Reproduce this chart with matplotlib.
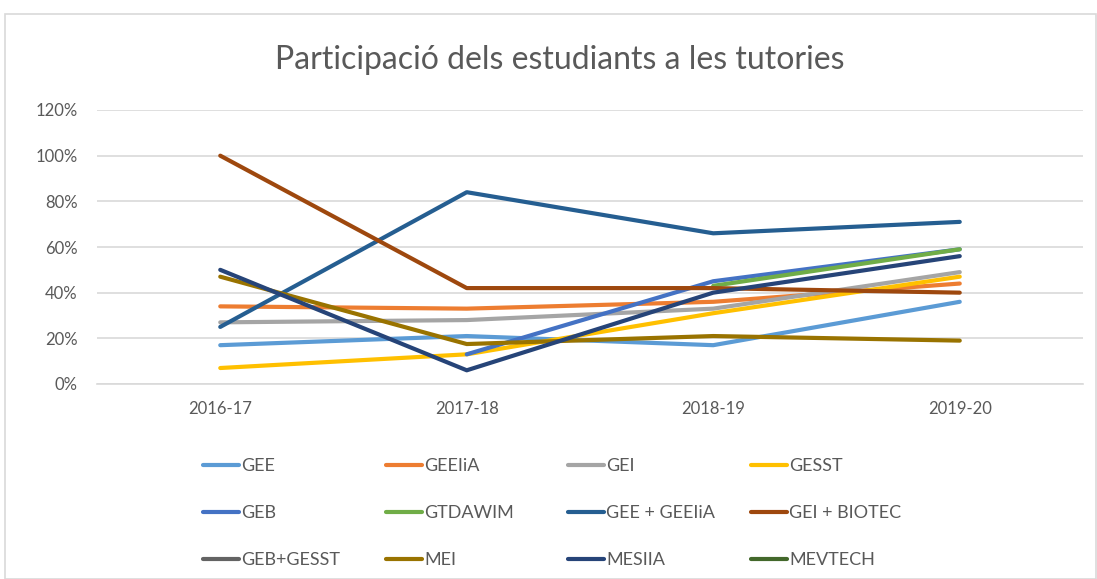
import numpy as np
import matplotlib.pyplot as plt
from matplotlib.patches import Rectangle
from matplotlib.ticker import PercentFormatter

plt.rcParams['font.family'] = ['Lato', 'DejaVu Sans']

# Data (fraction of students)
years = ['2016-17', '2017-18', '2018-19', '2019-20']
nan = np.nan
gee = [0.17, 0.21, 0.17, 0.36]
geeiia = [0.34, 0.33, 0.36, 0.44]
gei = [0.27, 0.28, 0.33, 0.49]
gesst = [0.07, 0.13, 0.31, 0.47]
geb = [nan, 0.13, 0.45, 0.59]
gtdawim = [nan, nan, 0.43, 0.59]
gee_geeiia = [0.25, 0.84, 0.66, 0.71]
gei_biotec = [1.00, 0.42, 0.42, 0.40]
geb_gesst = [nan, nan, nan, nan]
mei = [0.47, 0.175, 0.21, 0.19]
mesiia = [0.50, 0.06, 0.40, 0.56]
mevtech = [nan, nan, nan, nan]

series = [
    ('GEE', gee, '#5B9BD5'),
    ('GEEIiA', geeiia, '#ED7D31'),
    ('GEI', gei, '#A5A5A5'),
    ('GESST', gesst, '#FFC000'),
    ('GEB', geb, '#4472C4'),
    ('GTDAWIM', gtdawim, '#70AD47'),
    ('GEE + GEEIiA', gee_geeiia, '#255E91'),
    ('GEI + BIOTEC', gei_biotec, '#9E480E'),
    ('GEB+GESST', geb_gesst, '#636363'),
    ('MEI', mei, '#997300'),
    ('MESIIA', mesiia, '#264478'),
    ('MEVTECH', mevtech, '#43682B'),
]

text_col = '#595959'
fig = plt.figure(figsize=(10.97, 5.79), dpi=100)
fig.patches.append(Rectangle((5 / 1097, 0.0), 1091 / 1097, 1 - 14 / 579,
                             transform=fig.transFigure, fill=False,
                             edgecolor='#D9D9D9', lw=1.2))
ax = fig.add_axes([97 / 1097, 1 - 384 / 579, 986 / 1097, 274 / 579])

x = np.arange(len(years))
handles = []
for name, vals, col in series:
    ln, = ax.plot(x, vals, color=col, lw=3.0, label=name,
                  solid_capstyle='round', solid_joinstyle='round')
    handles.append(ln)

ax.set_xlim(-0.5, 3.5)
ax.set_ylim(0, 1.2)
ax.set_yticks(np.arange(0, 1.21, 0.2))
ax.yaxis.set_major_formatter(PercentFormatter(1.0, decimals=0))
ax.set_xticks(x)
ax.set_xticklabels(years)
ax.grid(axis='y', color='#D9D9D9', lw=1.2)
ax.set_axisbelow(True)
for s in ['top', 'right', 'left']:
    ax.spines[s].set_visible(False)
ax.spines['bottom'].set_color('#D9D9D9')
ax.spines['bottom'].set_linewidth(1.2)
ax.tick_params(axis='both', length=0, labelsize=12, colors=text_col, pad=14)
ax.tick_params(axis='x', pad=12)

fig.text(560 / 1097, 1 - 60 / 579, 'Participació dels estudiants a les tutories',
         ha='center', va='center', fontsize=23, color=text_col)

# legend laid out row by row, four equal-width columns
col_x = [203, 386, 568, 751]
for j, cx in enumerate(col_x):
    hs = handles[j::4]
    leg = fig.legend(hs, [h.get_label() for h in hs], loc='upper left',
                     bbox_to_anchor=(cx / 1097, 1 - 458 / 579),
                     frameon=False, fontsize=13, handlelength=2.0,
                     handletextpad=0.12, labelspacing=1.72, borderpad=0,
                     borderaxespad=0)
    for t in leg.get_texts():
        t.set_color(text_col)

plt.savefig('out.png', dpi=100)
